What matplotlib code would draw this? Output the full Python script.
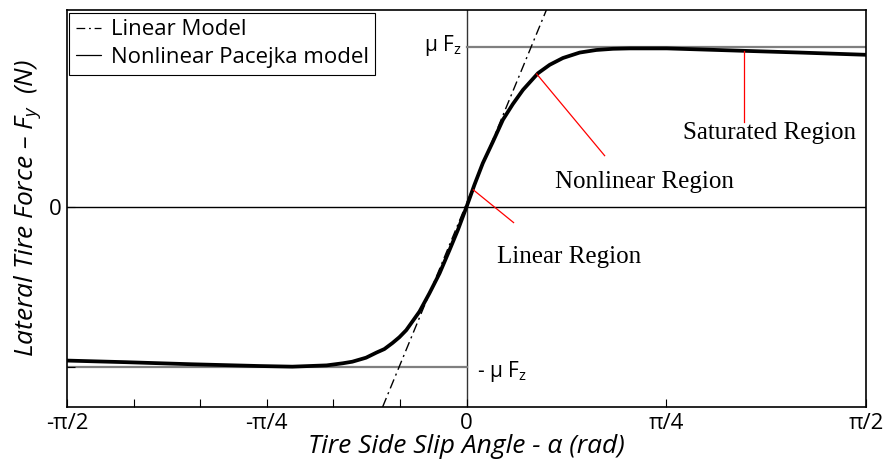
import numpy as np
import matplotlib
matplotlib.use("Agg")
import matplotlib.pyplot as plt

plt.rcParams['font.family'] = ['Open Sans', 'DejaVu Sans']
plt.rcParams['mathtext.fontset'] = 'custom'
plt.rcParams['mathtext.rm'] = 'Open Sans'
plt.rcParams['mathtext.it'] = 'Open Sans:italic'

# slip angle (rad) and normalised lateral force (F_y / mu F_z) along the Pacejka curve
alpha_pac = [-1.571, -1.34, -1.08, -0.815, -0.685, -0.55, -0.487, -0.449, -0.395,
             -0.354, -0.323, -0.291, -0.264, -0.237, -0.185, -0.146, -0.106,
             -0.067, -0.034, 0.0, 0.031, 0.064, 0.104, 0.143, 0.182, 0.222,
             0.281, 0.327, 0.379, 0.445, 0.51, 0.576, 0.642, 0.787, 1.087,
             1.311, 1.571]
force_pac = [-0.96, -0.97, -0.983, -0.994, -0.998, -0.99, -0.977, -0.967, -0.942,
             -0.91, -0.888, -0.85, -0.814, -0.77, -0.654, -0.54, -0.415,
             -0.27, -0.144, 0.0, 0.1375, 0.273, 0.408, 0.544, 0.642, 0.731,
             0.835, 0.8875, 0.93, 0.964, 0.98, 0.9875, 0.99, 0.99, 0.975,
             0.964, 0.95]

# linear tyre model endpoints
alpha_lin = [-0.33, 0.314]
force_lin = [-1.25, 1.23]

mu_fz = 1.0
xticks = [-np.pi / 2, -np.pi / 4, 0, np.pi / 4, np.pi / 2]
xticklabels = ['-π/2', '-π/4', '0', 'π/4', 'π/2']
xminor = [-5 * np.pi / 12, -np.pi / 3, -np.pi / 6, -np.pi / 12]

fig = plt.figure(figsize=(8.91, 4.66), dpi=100)
ax = fig.add_axes([0.0752, 0.1266, 0.8968, 0.852])

ax.set_xlim(-np.pi / 2, np.pi / 2)
ax.set_ylim(-1.25, 1.23)

# reference lines
ax.axhline(0, color='black', lw=1.0, zorder=1)
ax.axvline(0, color='#333333', lw=1.0, zorder=1)
ax.plot([0, np.pi / 2], [mu_fz, mu_fz], color='#7f7f7f', lw=1.6, zorder=1)
ax.plot([-np.pi / 2, 0], [-mu_fz, -mu_fz], color='#7f7f7f', lw=1.6, zorder=1)

ln_lin, = ax.plot(alpha_lin, force_lin, color='black', lw=1.0,
                  linestyle=(0, (7, 3, 1.5, 3)), zorder=2)
ln_pac, = ax.plot(alpha_pac, force_pac, color='black', lw=2.7,
                  solid_capstyle='round', solid_joinstyle='round', zorder=3)

# region annotations
serif = 'Liberation Serif'
ax.plot([0.027, 0.185], [0.106, -0.098], color='red', lw=0.9, zorder=4)
ax.text(0.405, -0.31, 'Linear Region', family=serif, fontsize=18,
        ha='center', va='center')
ax.plot([0.276, 0.543], [0.83, 0.32], color='red', lw=0.9, zorder=4)
ax.text(0.70, 0.155, 'Nonlinear Region', family=serif, fontsize=18,
        ha='center', va='center')
ax.plot([1.09, 1.09], [0.975, 0.53], color='red', lw=0.9, zorder=4)
ax.text(1.19, 0.46, 'Saturated Region', family=serif, fontsize=18,
        ha='center', va='center')

ax.text(-0.02, mu_fz + 0.01, 'μ F$_\\mathregular{z}$', fontsize=15,
        ha='right', va='center')
ax.text(0.04, -mu_fz - 0.03, '- μ F$_\\mathregular{z}$', fontsize=15,
        ha='left', va='center')

ax.set_xticks(xticks)
ax.set_xticklabels(xticklabels, fontsize=16)
ax.set_xticks(xminor, minor=True)
ax.set_yticks([0, -mu_fz])
ax.set_yticklabels(['0', ''], fontsize=16)
ax.tick_params(axis='both', which='both', direction='in', length=6,
               width=0.8, pad=4)

for s in ax.spines.values():
    s.set_linewidth(1.2)

ax.set_xlabel('Tire Side Slip Angle - α (rad)', fontsize=19, style='italic',
              labelpad=0)
ax.set_ylabel('Lateral Tire Force – $F_y$  (N)', fontsize=19, style='italic',
              labelpad=4)

leg = ax.legend([ln_lin, ln_pac], ['Linear Model', 'Nonlinear Pacejka model'],
                loc='upper left', bbox_to_anchor=(0.003, 0.993), fontsize=16,
                fancybox=False, framealpha=1, edgecolor='black',
                handlelength=1.1, handletextpad=0.45, borderpad=0.3,
                labelspacing=0.3, borderaxespad=0)
leg.get_frame().set_linewidth(0.8)
for h in leg.get_lines():
    h.set_linewidth(0.9)

fig.savefig('out.png', dpi=100)
